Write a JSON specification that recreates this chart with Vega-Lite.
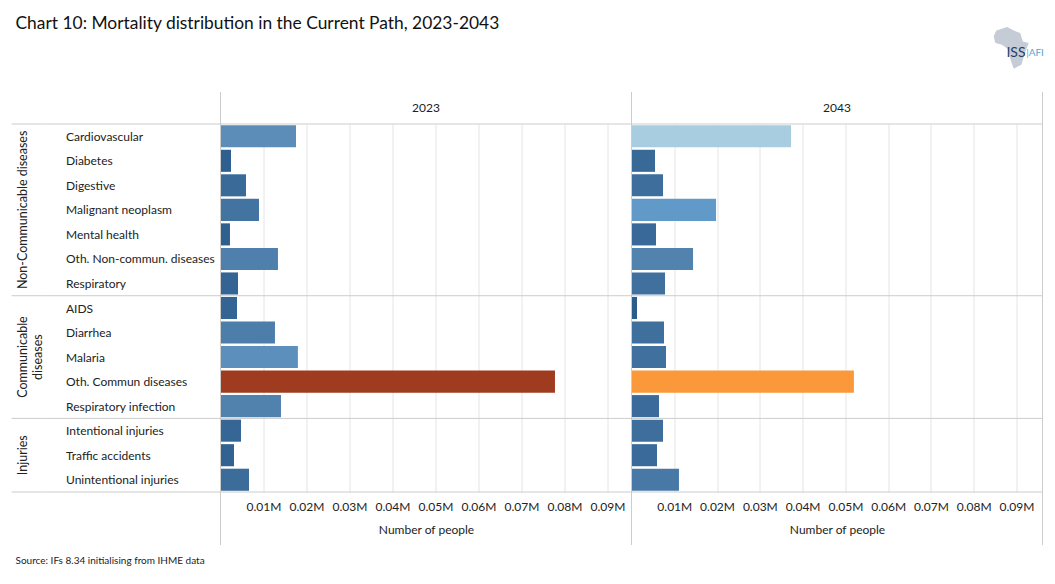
{"$schema":"https://vega.github.io/schema/vega-lite/v6.json","padding":{"left":10.5,"top":0,"right":0,"bottom":0},"background":"white","config":{"font":"Lato","view":{"stroke":null}},
"datasets":{"mortality":[
{"group":"Non-Communicable diseases","category":"Cardiovascular","year":"2023","value":0.01756},
{"group":"Non-Communicable diseases","category":"Diabetes","year":"2023","value":0.00244},
{"group":"Non-Communicable diseases","category":"Digestive","year":"2023","value":0.00593},
{"group":"Non-Communicable diseases","category":"Malignant neoplasm","year":"2023","value":0.00895},
{"group":"Non-Communicable diseases","category":"Mental health","year":"2023","value":0.0022},
{"group":"Non-Communicable diseases","category":"Oth. Non-commun. diseases","year":"2023","value":0.01337},
{"group":"Non-Communicable diseases","category":"Respiratory","year":"2023","value":0.00407},
{"group":"Communicable diseases","category":"AIDS","year":"2023","value":0.00384},
{"group":"Communicable diseases","category":"Diarrhea","year":"2023","value":0.01267},
{"group":"Communicable diseases","category":"Malaria","year":"2023","value":0.018},
{"group":"Communicable diseases","category":"Oth. Commun diseases","year":"2023","value":0.0778},
{"group":"Communicable diseases","category":"Respiratory infection","year":"2023","value":0.01407},
{"group":"Injuries","category":"Intentional injuries","year":"2023","value":0.00477},
{"group":"Injuries","category":"Traffic accidents","year":"2023","value":0.00314},
{"group":"Injuries","category":"Unintentional injuries","year":"2023","value":0.00663},
{"group":"Non-Communicable diseases","category":"Cardiovascular","year":"2043","value":0.0373},
{"group":"Non-Communicable diseases","category":"Diabetes","year":"2043","value":0.0055},
{"group":"Non-Communicable diseases","category":"Digestive","year":"2043","value":0.00737},
{"group":"Non-Communicable diseases","category":"Malignant neoplasm","year":"2043","value":0.01977},
{"group":"Non-Communicable diseases","category":"Mental health","year":"2043","value":0.00573},
{"group":"Non-Communicable diseases","category":"Oth. Non-commun. diseases","year":"2043","value":0.01439},
{"group":"Non-Communicable diseases","category":"Respiratory","year":"2043","value":0.00784},
{"group":"Communicable diseases","category":"AIDS","year":"2043","value":0.00129},
{"group":"Communicable diseases","category":"Diarrhea","year":"2043","value":0.0076},
{"group":"Communicable diseases","category":"Malaria","year":"2043","value":0.00807},
{"group":"Communicable diseases","category":"Oth. Commun diseases","year":"2043","value":0.052},
{"group":"Communicable diseases","category":"Respiratory infection","year":"2043","value":0.00643},
{"group":"Injuries","category":"Intentional injuries","year":"2043","value":0.00737},
{"group":"Injuries","category":"Traffic accidents","year":"2043","value":0.00596},
{"group":"Injuries","category":"Unintentional injuries","year":"2043","value":0.0111}],
"groupStarts":[{"category":"Cardiovascular"},{"category":"AIDS"},{"category":"Intentional injuries"}],
"groupEnd":[{"category":"Unintentional injuries"}],
"groupLabels":[{"category":"Malignant neoplasm","label":"Non-Communicable diseases"},{"category":"Malaria","label":"Communicable\ndiseases"},{"category":"Traffic accidents","label":"Injuries"}]},
"bounds":"flush","spacing":0,"columns":4,"align":"each",
"concat":[
 {"width":30,"height":92,"data":{"values":[{"t":"Chart 10: Mortality distribution in the Current Path, 2023-2043"}]},"mark":{"type":"text","align":"left","fontSize":17.4,"dx":-11,"dy":-22,"color":"#111"},"encoding":{"text":{"field":"t"}}},
 {"width":179,"height":92,"data":{"values":[]},"mark":"text","encoding":{}},
 {"width":411,"height":92,"data":{"values":[]},"mark":"text","encoding":{}},
 {"width":411,"height":92,"data":{"values":[{"iss":"ISS","afi":"|AFI"}]},"layer":[
  {"mark":{"type":"point","filled":true,"opacity":1,"color":"#c5ccd6","size":1764,"shape":"M7.59,-.74L8.10,-.90L8.42,-.74L8.73,-.61L8.85,-.22L9.13,-.14L8.94,.34L8.89,.53L8.78,.89L8.42,1.08L8.26,.66L8.18,.18L7.86,-.06L7.54,-.14L7.46,-.46Z"},"encoding":{}},
  {"mark":{"type":"text","fontSize":14,"dx":179,"dy":7,"color":"#1f3f63"},"encoding":{"text":{"field":"iss"}}},
  {"mark":{"type":"text","fontSize":10,"dx":198,"dy":7,"color":"#5ba3d0"},"encoding":{"text":{"field":"afi"}}}]},
 {"width":30,"height":32,"data":{"values":[]},"mark":"text","encoding":{}},
 {"width":179,"height":32,"data":{"values":[]},"mark":"text","encoding":{}},
 {"width":411,"height":32,"data":{"values":[{"year":"2023","edge":0}]},"layer":[
  {"mark":{"type":"rule","color":"#cccccc"},"encoding":{"x":{"field":"edge","type":"quantitative","scale":{"domain":[0,0.0956],"nice":false},"axis":null}}},
  {"mark":{"type":"text","fontSize":12,"color":"#222"},"encoding":{"text":{"field":"year"}}}]},
 {"width":411,"height":32,"data":{"values":[{"year":"2043","edge":0},{"year":"","edge":0.0961}]},"layer":[
  {"mark":{"type":"rule","color":"#cccccc"},"encoding":{"x":{"field":"edge","type":"quantitative","scale":{"domain":[0,0.0961],"nice":false},"axis":null}}},
  {"transform":[{"filter":"datum.edge==0"}],"mark":{"type":"text","fontSize":12,"color":"#222"},"encoding":{"text":{"field":"year"}}}]},
 {"width":30,"height":368,"layer":[
  {"data":{"name":"groupStarts"},"mark":{"type":"rule","color":"#cccccc"},"encoding":{"y":{"field":"category","type":"nominal","bandPosition":-0.0556,"axis":null,"scale":{"paddingInner":0.1,"paddingOuter":0.05,"domain":["Cardiovascular","Diabetes","Digestive","Malignant neoplasm","Mental health","Oth. Non-commun. diseases","Respiratory","AIDS","Diarrhea","Malaria","Oth. Commun diseases","Respiratory infection","Intentional injuries","Traffic accidents","Unintentional injuries"]}}}},
  {"data":{"name":"groupEnd"},"mark":{"type":"rule","color":"#cccccc"},"encoding":{"y":{"field":"category","type":"nominal","bandPosition":1.0556,"axis":null}}},
  {"data":{"name":"groupLabels"},"mark":{"type":"text","angle":270,"align":"center","baseline":"alphabetic","lineBreak":"\n","lineHeight":15,"fontSize":12.5,"color":"#222"},"encoding":{"y":{"field":"category","type":"nominal","axis":null},"text":{"field":"label"}}}]},
 {"width":179,"height":368,"layer":[
  {"data":{"name":"groupStarts"},"mark":{"type":"rule","color":"#cccccc"},"encoding":{"y":{"field":"category","type":"nominal","bandPosition":-0.0556,"title":null,"axis":{"orient":"left","domain":false,"ticks":false,"labelAlign":"left","labelPadding":-24,"labelOffset":0.5,"labelFontSize":12,"labelColor":"#222","labelLimit":200},"scale":{"paddingInner":0.1,"paddingOuter":0.05,"domain":["Cardiovascular","Diabetes","Digestive","Malignant neoplasm","Mental health","Oth. Non-commun. diseases","Respiratory","AIDS","Diarrhea","Malaria","Oth. Commun diseases","Respiratory infection","Intentional injuries","Traffic accidents","Unintentional injuries"]}}}},
  {"data":{"name":"groupEnd"},"mark":{"type":"rule","color":"#cccccc"},"encoding":{"y":{"field":"category","type":"nominal","bandPosition":1.0556}}}]},
 {"width":411,"height":368,"layer":[
  {"data":{"name":"mortality"},"transform":[{"filter":"datum.year=='2023'"}],"mark":{"type":"bar"},"encoding":{
   "y":{"field":"category","type":"nominal","axis":null,"scale":{"paddingInner":0.1,"paddingOuter":0.05,"domain":["Cardiovascular","Diabetes","Digestive","Malignant neoplasm","Mental health","Oth. Non-commun. diseases","Respiratory","AIDS","Diarrhea","Malaria","Oth. Commun diseases","Respiratory infection","Intentional injuries","Traffic accidents","Unintentional injuries"]}},
   "x":{"field":"value","type":"quantitative","title":"Number of people","scale":{"domain":[0,0.0956],"nice":false},"axis":{"values":[0.01,0.02,0.03,0.04,0.05,0.06,0.07,0.08,0.09],"labelExpr":"format(datum.value,'.2f')+'M'","grid":true,"gridColor":"#e4e4e4","domain":false,"ticks":false,"labelPadding":9,"labelFontSize":12,"labelColor":"#222","titleFontSize":12,"titleFontWeight":"normal","titleColor":"#222","titlePadding":12,"labelFlush":false}},
   "color":{"field":"value","type":"quantitative","legend":null,"scale":{"domain":[0.0013,0.0176,0.0198,0.0373,0.052,0.078],"range":["#2c5c8c","#5b8db8","#619ac8","#a9cde0","#fb993a","#9e3a1f"],"interpolate":"rgb"}}}},
  {"data":{"name":"groupStarts"},"mark":{"type":"rule","color":"#cccccc"},"encoding":{"y":{"field":"category","type":"nominal","bandPosition":-0.0556}}},
  {"data":{"name":"groupEnd"},"mark":{"type":"rule","color":"#cccccc"},"encoding":{"y":{"field":"category","type":"nominal","bandPosition":1.0556}}},
  {"data":{"values":[{"edge":0}]},"mark":{"type":"rule","color":"#cccccc"},"encoding":{"x":{"field":"edge","type":"quantitative"}}}]},
 {"width":411,"height":368,"layer":[
  {"data":{"name":"mortality"},"transform":[{"filter":"datum.year=='2043'"}],"mark":{"type":"bar"},"encoding":{
   "y":{"field":"category","type":"nominal","axis":null,"scale":{"paddingInner":0.1,"paddingOuter":0.05,"domain":["Cardiovascular","Diabetes","Digestive","Malignant neoplasm","Mental health","Oth. Non-commun. diseases","Respiratory","AIDS","Diarrhea","Malaria","Oth. Commun diseases","Respiratory infection","Intentional injuries","Traffic accidents","Unintentional injuries"]}},
   "x":{"field":"value","type":"quantitative","title":"Number of people","scale":{"domain":[0,0.0961],"nice":false},"axis":{"values":[0.01,0.02,0.03,0.04,0.05,0.06,0.07,0.08,0.09],"labelExpr":"format(datum.value,'.2f')+'M'","grid":true,"gridColor":"#e4e4e4","domain":false,"ticks":false,"labelPadding":9,"labelFontSize":12,"labelColor":"#222","titleFontSize":12,"titleFontWeight":"normal","titleColor":"#222","titlePadding":12,"labelFlush":false}},
   "color":{"field":"value","type":"quantitative","legend":null,"scale":{"domain":[0.0013,0.0176,0.0198,0.0373,0.052,0.078],"range":["#2c5c8c","#5b8db8","#619ac8","#a9cde0","#fb993a","#9e3a1f"],"interpolate":"rgb"}}}},
  {"data":{"name":"groupStarts"},"mark":{"type":"rule","color":"#cccccc"},"encoding":{"y":{"field":"category","type":"nominal","bandPosition":-0.0556}}},
  {"data":{"name":"groupEnd"},"mark":{"type":"rule","color":"#cccccc"},"encoding":{"y":{"field":"category","type":"nominal","bandPosition":1.0556}}},
  {"data":{"values":[{"edge":0},{"edge":0.0961}]},"mark":{"type":"rule","color":"#cccccc"},"encoding":{"x":{"field":"edge","type":"quantitative"}}}]},
 {"width":30,"height":53,"data":{"values":[]},"mark":"text","encoding":{}},
 {"width":179,"height":53,"data":{"values":[]},"mark":"text","encoding":{}},
 {"width":411,"height":53,"data":{"values":[{"edge":0}]},"mark":{"type":"rule","color":"#cccccc"},"encoding":{"x":{"field":"edge","type":"quantitative","scale":{"domain":[0,0.0956],"nice":false},"axis":null}}},
 {"width":411,"height":53,"data":{"values":[{"edge":0},{"edge":0.0961}]},"mark":{"type":"rule","color":"#cccccc"},"encoding":{"x":{"field":"edge","type":"quantitative","scale":{"domain":[0,0.0961],"nice":false},"axis":null}}},
 {"width":30,"height":32,"data":{"values":[{"t":"Source: IFs 8.34 initialising from IHME data"}]},"mark":{"type":"text","align":"left","fontSize":10,"dx":-11,"color":"#222"},"encoding":{"text":{"field":"t"}}}
]}
